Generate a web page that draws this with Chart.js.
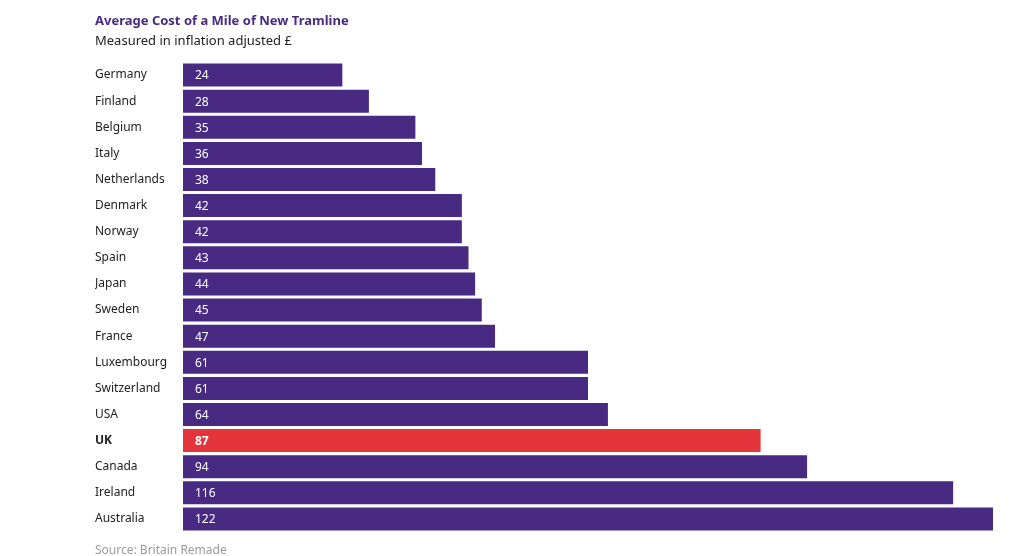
<!DOCTYPE html>
<html>
<head>
<meta charset="utf-8">
<script src="https://cdn.jsdelivr.net/npm/chart.js@4/dist/chart.umd.min.js"></script>
<style>
  html, body { margin: 0; padding: 0; background: #fff; font-family: "Noto Sans", sans-serif; }
  #wrap { position: relative; width: 1031px; height: 556px; }
  #title { position: absolute; left: 95px; top: 11px; font-size: 13px; font-weight: bold; color: #482a82; }
  #subtitle { position: absolute; left: 95px; top: 31px; font-size: 13px; color: #222; }
  #source { position: absolute; left: 95px; top: 541px; font-size: 12px; color: #9a9a9a; }
</style>
</head>
<body>
<div id="wrap">
  <canvas id="chart" width="1031" height="556"></canvas>
  <div id="title">Average Cost of a Mile of New Tramline</div>
  <div id="subtitle">Measured in inflation adjusted £</div>
  <div id="source">Source: Britain Remade</div>
</div>
<script>
const countries = ['Germany', 'Finland', 'Belgium', 'Italy', 'Netherlands', 'Denmark', 'Norway', 'Spain',
  'Japan', 'Sweden', 'France', 'Luxembourg', 'Switzerland', 'USA', 'UK', 'Canada', 'Ireland', 'Australia'];
const costs = [24, 28, 35, 36, 38, 42, 42, 43, 44, 45, 47, 61, 61, 64, 87, 94, 116, 122];
const highlight = 'UK';

const PURPLE = '#482a82';
const RED = '#e4353a';

// value labels drawn inside each bar, near its left end
const insideLabels = {
    id: 'insideLabels',
    afterDatasetsDraw(chart) {
        const { ctx } = chart;
        const meta = chart.getDatasetMeta(0);
        ctx.save();
        ctx.fillStyle = '#fff';
        ctx.textBaseline = 'middle';
        meta.data.forEach((bar, i) => {
            const bold = countries[i] === highlight;
            ctx.font = (bold ? 'bold ' : '') + '12px "Noto Sans"';
            ctx.fillText(costs[i], bar.base + 12, bar.y + 1);
        });
        ctx.restore();
    }
};

new Chart(document.getElementById('chart'), {
    type: 'bar',
    data: {
        labels: countries,
        datasets: [{
            data: costs,
            backgroundColor: countries.map(c => c === highlight ? RED : PURPLE),
            categoryPercentage: 1,
            barPercentage: 0.88,
        }],
    },
    options: {
        indexAxis: 'y',
        responsive: false,
        animation: false,
        layout: { padding: { left: 95, top: 62, bottom: 24, right: 38 } },
        plugins: { legend: { display: false }, tooltip: { enabled: false } },
        scales: {
            x: { display: false, min: 0, max: 122 },
            y: {
                grid: { display: false },
                border: { display: false },
                afterFit: axis => { axis.width = 88; },
                ticks: {
                    crossAlign: 'far',
                    padding: 0,
                    color: '#222',
                    font: c => ({
                        family: 'Noto Sans',
                        size: 12,
                        weight: countries[c.index] === highlight ? 'bold' : 'normal',
                    }),
                },
            },
        },
    },
    plugins: [insideLabels],
});
</script>
</body>
</html>
